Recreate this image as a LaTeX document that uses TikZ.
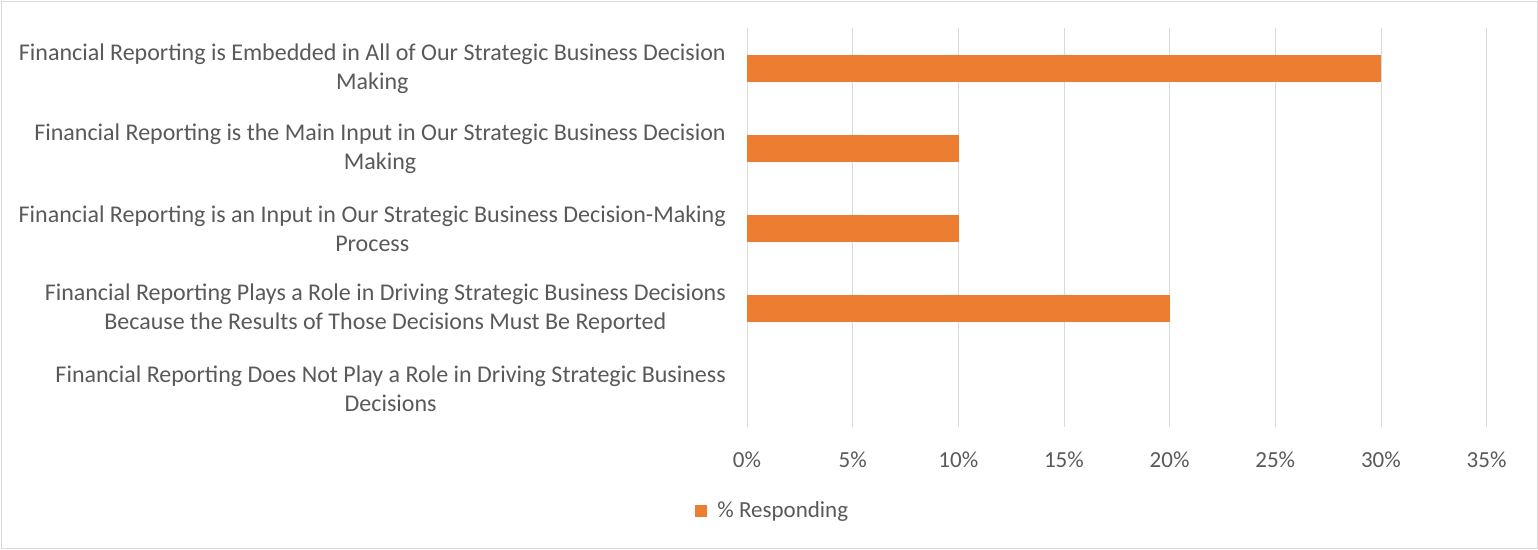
\documentclass[tikz,border=0pt]{standalone}
\usepackage{fontspec}
\setmainfont{Carlito}
\usetikzlibrary{positioning}

\definecolor{barorange}{HTML}{ED7D31}
\definecolor{gridgray}{HTML}{D9D9D9}
\definecolor{textgray}{HTML}{595959}

\begin{document}
\begin{tikzpicture}[x=1pt,y=-1pt,
    catlabel/.style={anchor=east,align=center,text=textgray,inner sep=0pt,
        font=\fontsize{24}{29}\selectfont},
    ticklabel/.style={text=textgray,inner sep=0pt,font=\fontsize{23}{27}\selectfont},
    barbox/.style={fill=barorange,draw=none,inner sep=0pt,anchor=west,minimum height=27pt}]

\def\xzero{747}
\def\pct{21.13}
\def\rowpitch{80}

\newcommand\surveybar[3]
{
    \node [catlabel] (c#1) at (726,{68.5+(#1-1)*\rowpitch}) {#3};
    \ifnum #2>0
        \node [barbox,minimum width={#2*\pct*1pt}] (b#1) at (\xzero,{68.5+(#1-1)*\rowpitch}) {};
    \fi
}

\useasboundingbox (0,0) rectangle (1538,549);
\draw [gridgray] (1,1) rectangle (1537,548);

% grid and axis labels
\foreach \p in {0,5,...,35}
{
    \draw [gridgray] ({\xzero+\p*\pct},28) -- ({\xzero+\p*\pct},427);
    \node [ticklabel] (t\p) at ({\xzero+\p*\pct},460) {\p\%};
}

\surveybar{1}{30}{Financial Reporting is Embedded in All of Our Strategic Business Decision\\Making}
\surveybar{2}{10}{Financial Reporting is the Main Input in Our Strategic Business Decision\\Making}
\surveybar{3}{10}{Financial Reporting is an Input in Our Strategic Business Decision-Making\\Process}
\surveybar{4}{20}{Financial Reporting Plays a Role in Driving Strategic Business Decisions\\Because the Results of Those Decisions Must Be Reported}
\surveybar{5}{0}{Financial Reporting Does Not Play a Role in Driving Strategic Business\\Decisions}

% legend
\node [fill=barorange,inner sep=0pt,minimum size=12pt] (legkey) at (701,511) {};
\node [right=10pt of legkey,ticklabel] (legtext) {\% Responding};

\end{tikzpicture}
\end{document}
